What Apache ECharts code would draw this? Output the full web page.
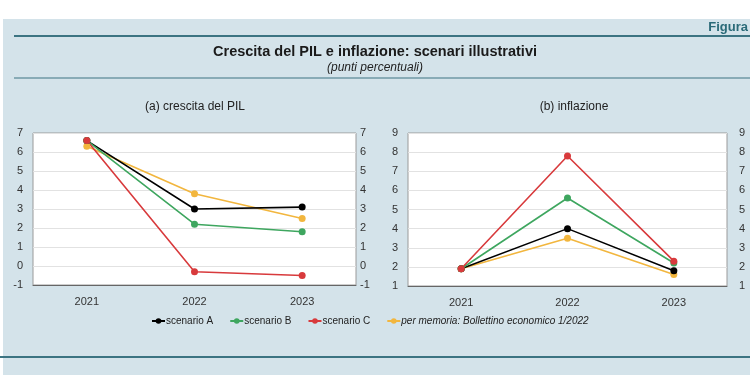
<!DOCTYPE html>
<html><head><meta charset="utf-8">
<script src="https://cdn.jsdelivr.net/npm/echarts@6/dist/echarts.min.js"></script>
<style>html,body{margin:0;padding:0;background:#fff}#c{width:750px;height:375px}</style>
</head><body><div id="c"></div>
<script>
const categories = ['2021', '2022', '2023'];
const seriesNames = ['scenario A', 'scenario B', 'scenario C', 'per memoria: Bollettino economico 1/2022'];
const gdpA = [6.6, 3.0, 3.1];
const gdpB = [6.6, 2.2, 1.8];
const gdpC = [6.6, -0.3, -0.5];
const gdpMemo = [6.3, 3.8, 2.5];
const inflA = [1.9, 4.0, 1.8];
const inflB = [1.9, 5.6, 2.2];
const inflC = [1.9, 7.8, 2.3];
const inflMemo = [1.9, 3.5, 1.6];
const gdpTicks = [-1, 7, 1];
const inflTicks = [1, 9, 1];

const colors = ['#000000', '#3ea65f', '#d83a3c', '#f2b63e'];
const font = 'Liberation Sans, Arial, sans-serif';
const bg = '#d4e3ea';

const chart = echarts.init(document.getElementById('c'), null, {renderer: 'canvas'});

function yAx(gridIndex, ticks, pos, rightMargin) {
  return {
    type: 'value', gridIndex, min: ticks[0], max: ticks[1], interval: ticks[2], position: pos,
    axisLine: {show: false}, axisTick: {show: false},
    splitLine: {show: pos === 'left', lineStyle: {color: '#e2e2e2', width: 1}},
    axisLabel: {color: '#333', fontFamily: font, fontSize: 11, margin: pos === 'left' ? 10 : rightMargin}
  };
}
function xAx(gridIndex) {
  return {
    type: 'category', gridIndex, data: categories, boundaryGap: true,
    axisLine: {onZero: false, lineStyle: {color: '#666', width: 1}},
    axisTick: {inside: true, length: 4, lineStyle: {color: '#666'}},
    axisLabel: {color: '#333', fontFamily: font, fontSize: 11, margin: 11}
  };
}
function ser(name, data, idx, axisIdx) {
  return {
    name, type: 'line', data, xAxisIndex: axisIdx, yAxisIndex: axisIdx * 2,
    color: colors[idx], symbol: 'circle', symbolSize: 7,
    lineStyle: {width: 1.6, color: colors[idx]}, itemStyle: {color: colors[idx]},
    animation: false
  };
}

const option = {
  backgroundColor: '#ffffff',
  animation: false,
  graphic: [
    {type: 'rect', shape: {x: 3, y: 19, width: 747, height: 356}, style: {fill: bg}, z: -10},
    {type: 'line', shape: {x1: 14, y1: 36, x2: 750, y2: 36}, style: {stroke: '#3c7482', lineWidth: 2}},
    {type: 'line', shape: {x1: 14, y1: 78, x2: 750, y2: 78}, style: {stroke: '#3c7482', lineWidth: 1.2}},
    {type: 'line', shape: {x1: 0, y1: 357, x2: 750, y2: 357}, style: {stroke: '#3c7482', lineWidth: 2}},
    {type: 'text', right: 2, top: 21, style: {text: 'Figura', fill: '#2a6a78', font: 'bold 13px ' + font}}
  ],
  title: [
    {text: 'Crescita del PIL e inflazione: scenari illustrativi', left: 'center', top: 39,
     textStyle: {fontFamily: font, fontSize: 14.5, fontWeight: 'bold', color: '#1a1a1a'}},
    {text: '(punti percentuali)', left: 'center', top: 57,
     textStyle: {fontFamily: font, fontSize: 12, fontStyle: 'italic', fontWeight: 'normal', color: '#222'}},
    {text: '(a) crescita del PIL', left: 190, top: 96, textAlign: 'center',
     textStyle: {fontFamily: font, fontSize: 12, fontWeight: 'normal', color: '#222'}},
    {text: '(b) inflazione', left: 569, top: 96, textAlign: 'center',
     textStyle: {fontFamily: font, fontSize: 12, fontWeight: 'normal', color: '#222'}}
  ],
  legend: {
    top: 311, left: 146, itemGap: 16, itemWidth: 13, itemHeight: 7,
    textStyle: {fontFamily: font, fontSize: 10, color: '#222', padding: [0, 0, 0, -4]},
    data: [
      {name: seriesNames[0]}, {name: seriesNames[1]}, {name: seriesNames[2]},
      {name: seriesNames[3], textStyle: {fontStyle: 'italic'}}
    ]
  },
  grid: [
    {left: 33, top: 133, width: 323, height: 152, show: true, backgroundColor: '#ffffff', borderColor: '#9a9a9a', borderWidth: 1},
    {left: 408, top: 133, width: 319, height: 153, show: true, backgroundColor: '#ffffff', borderColor: '#9a9a9a', borderWidth: 1}
  ],
  xAxis: [xAx(0), xAx(1)],
  yAxis: [yAx(0, gdpTicks, 'left'), yAx(0, gdpTicks, 'right', 4), yAx(1, inflTicks, 'left'), yAx(1, inflTicks, 'right', 12)],
  series: [
    ser(seriesNames[3], gdpMemo, 3, 0),
    ser(seriesNames[0], gdpA, 0, 0),
    ser(seriesNames[1], gdpB, 1, 0),
    ser(seriesNames[2], gdpC, 2, 0),
    ser(seriesNames[3], inflMemo, 3, 1),
    ser(seriesNames[0], inflA, 0, 1),
    ser(seriesNames[1], inflB, 1, 1),
    ser(seriesNames[2], inflC, 2, 1)
  ]
};
chart.setOption(option);
</script></body></html>
